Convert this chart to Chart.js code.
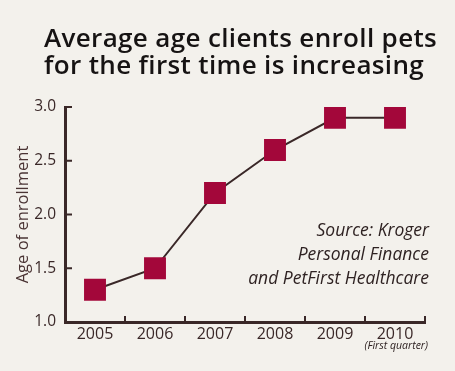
<!DOCTYPE html>
<html>
<head>
<meta charset="utf-8">
<script src="https://cdn.jsdelivr.net/npm/chart.js@4"></script>
<style>
  html, body { margin: 0; padding: 0; background: #f3f1ec; }
  #wrap { width: 455px; height: 371px; }
</style>
</head>
<body>
<div id="wrap"><canvas id="grafica" width="455" height="371"></canvas></div>
<script>
const years = ['2005', '2006', '2007', '2008', '2009', '2010'];
const ages = [1.3, 1.5, 2.2, 2.6, 2.9, 2.9];
const yTicks = [1.0, 1.5, 2.0, 2.5, 3.0];
const titleLines = ['Average age clients enroll pets', 'for the first time is increasing'];
const sourceLines = ['Source: Kroger', 'Personal Finance', 'and PetFirst Healthcare'];
const lastNote = '(First quarter)';

const ink = '#3a2828';
const fontName = '"Open Sans", Lato, sans-serif';

// fondo, titulo, fuente y marcas internas de los ejes
const extras = {
    id: 'extras',
    beforeDraw(chart) {
        const c = chart.ctx;
        c.save();
        c.fillStyle = '#f3f1ec';
        c.fillRect(0, 0, chart.width, chart.height);
        c.restore();
    },
    afterDatasetsDraw(chart) {
        const c = chart.ctx;
        const x = chart.scales.x;
        const y = chart.scales.y;
        const step = x.getPixelForValue(1) - x.getPixelForValue(0);
        c.save();
        c.strokeStyle = ink;
        c.lineWidth = 2;
        c.beginPath();
        years.forEach((yr, i) => {
            const px = x.getPixelForValue(i) + step / 2;
            c.moveTo(px, y.bottom);
            c.lineTo(px, y.bottom - 6);
        });
        yTicks.forEach(v => {
            const py = y.getPixelForValue(v);
            c.moveTo(x.left, py);
            c.lineTo(x.left + 7, py);
        });
        c.stroke();

        c.fillStyle = '#161313';
        c.font = '600 26px ' + fontName;
        c.letterSpacing = '0.35px';
        c.textBaseline = 'alphabetic';
        c.textAlign = 'left';
        titleLines.forEach((t, i) => c.fillText(t, 44, 47 + i * 27));
        c.letterSpacing = '0px';

        c.fillStyle = '#2e2222';
        c.font = 'italic 17.5px ' + fontName;
        c.textAlign = 'right';
        sourceLines.forEach((t, i) => c.fillText(t, 429, 236 + i * 24));

        c.font = 'italic 10.5px ' + fontName;
        c.fillText(lastNote, 428, 349);
        c.restore();
    }
};

const ctx = document.getElementById('grafica').getContext('2d');
const grafica = new Chart(ctx, {
    type: 'line',
    data: {
        labels: years,
        datasets: [{
            data: ages,
            borderColor: ink,
            borderWidth: 2,
            pointStyle: 'rect',
            pointRadius: 15.5,
            pointBackgroundColor: '#a3073a',
            pointBorderColor: '#a3073a',
            pointBorderWidth: 0,
            tension: 0
        }]
    },
    options: {
        responsive: false,
        animation: false,
        layout: { padding: { top: 107, right: 30, left: 13, bottom: 0 } },
        plugins: { legend: { display: false }, tooltip: { enabled: false } },
        scales: {
            x: {
                offset: true,
                grid: { display: false, drawTicks: false, tickLength: 0 },
                border: { color: ink, width: 3 },
                ticks: { color: ink, font: { family: fontName, size: 16 }, padding: 3 },
                afterFit(s) { s.height = 49; }
            },
            y: {
                min: 1, max: 3,
                grid: { display: false, drawTicks: false, tickLength: 0 },
                border: { color: ink, width: 3 },
                ticks: {
                    stepSize: 0.5,
                    color: ink,
                    font: { family: fontName, size: 15.5 },
                    padding: 9,
                    callback: v => v.toFixed(1)
                },
                title: {
                    display: true,
                    text: 'Age of enrollment',
                    color: '#4a3434',
                    font: { family: fontName, size: 16.5 },
                    padding: 0
                },
                afterFit(s) { s.width = 52; }
            }
        }
    },
    plugins: [extras]
});
</script>
</body>
</html>
